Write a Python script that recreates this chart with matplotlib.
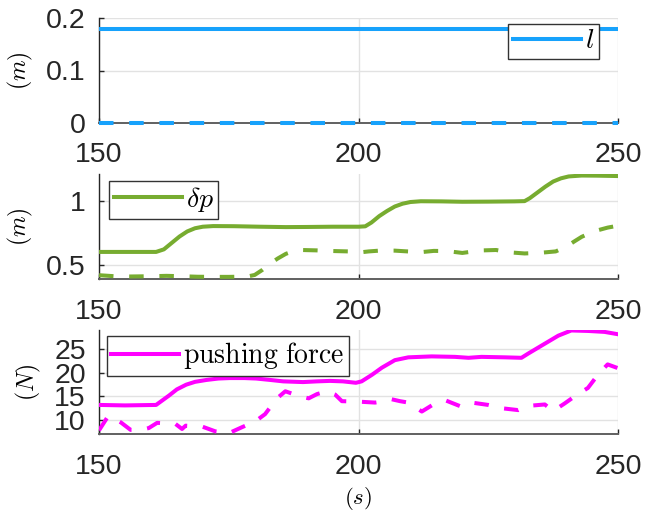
import matplotlib
matplotlib.use("Agg")
import matplotlib.pyplot as plt

plt.rcParams['font.family'] = ['Liberation Sans', 'DejaVu Sans']
plt.rcParams['mathtext.fontset'] = 'cm'

# ---------------- data ----------------
t_l = [150, 250]
l_ref = [0.18, 0.18]
l_act = [0.0, 0.0]

t_dp_ref = [150, 161, 162.5, 164, 165.5, 167, 168.5, 170, 172, 176, 181, 186, 190, 195, 200,
            201.3, 202.5, 204, 205.5, 207, 208.5, 210, 212, 216, 220, 225, 230, 232,
            233, 234.5, 236, 237.5, 239, 240.5, 243, 246, 250]
dp_ref = [0.6, 0.6, 0.62, 0.67, 0.72, 0.76, 0.785, 0.797, 0.802, 0.801, 0.797, 0.794, 0.795, 0.797, 0.797,
          0.80, 0.83, 0.88, 0.92, 0.955, 0.977, 0.99, 0.996, 0.995, 0.992, 0.993, 0.995, 0.997,
          1.02, 1.065, 1.11, 1.15, 1.175, 1.19, 1.197, 1.196, 1.193]

t_dp_act = [150, 153, 156, 160, 163, 166, 169, 172, 175, 178.5, 180, 181.5, 183, 184.5, 186, 187.5, 189,
            192, 195, 198, 200, 202, 204, 207, 209, 212, 214.5, 217, 220, 222, 224, 226.5, 229, 232,
            235, 238, 240, 241.5, 243, 244.5, 246, 248, 250]
dp_act = [0.418, 0.41, 0.408, 0.41, 0.413, 0.41, 0.406, 0.405, 0.405, 0.407, 0.42, 0.46, 0.51, 0.55, 0.585, 0.607, 0.615,
          0.612, 0.607, 0.604, 0.595, 0.604, 0.61, 0.61, 0.605, 0.598, 0.608, 0.607, 0.592, 0.603, 0.612, 0.615, 0.597, 0.588,
          0.593, 0.604, 0.64, 0.68, 0.718, 0.745, 0.768, 0.79, 0.805]

t_f_ref = [150, 155, 158, 161, 162, 163.5, 165, 166.8, 168.5, 170.7, 173, 175.2, 178, 180.3, 183, 185.5,
           189.3, 192, 194.5, 197, 199.5, 200.6, 202.6, 204.5, 207, 209.6, 214.1, 218.6, 221.2, 223.7,
           228.2, 231.4, 232.7, 235.9, 238.5, 241, 244.2, 247.4, 250]
f_ref = [13.2, 13.1, 13.15, 13.2, 14.0, 15.2, 16.5, 17.5, 18.1, 18.5, 18.8, 18.9, 18.9, 18.8, 18.5, 18.2,
         18.05, 18.2, 18.3, 18.2, 17.9, 18.2, 19.6, 21.1, 22.7, 23.3, 23.5, 23.4, 23.2, 23.4,
         23.3, 23.2, 24.1, 26.2, 27.9, 29.0, 28.9, 28.7, 28.2]

t_f_act = [150, 151.8, 153, 154.2, 156.1, 158, 159.6, 161.2, 164.7, 166, 166.7, 169.9, 172.4, 175, 177.6,
           180.1, 182, 184.3, 185.9, 188.5, 190.4, 192, 193.9, 195.5, 196.8, 200, 203.2, 205, 206.4, 208,
           209.6, 212.2, 214.7, 216.7, 219.9, 221.8, 225, 227.6, 230.8, 232.7, 235.9, 237.5, 239.7, 242,
           244.2, 246.2, 248, 250]
f_act = [7.8, 10.9, 10.2, 9.5, 7.9, 7.9, 8.3, 9.4, 9.2, 8.1, 8.8, 8.6, 7.6, 7.2, 8.5,
         9.7, 11.25, 14.6, 16.1, 15.1, 14.6, 15.5, 16.1, 15.4, 14.0, 13.9, 13.7, 14.0, 14.4, 14.0,
         13.7, 11.8, 13.5, 14.2, 12.8, 13.7, 13.2, 12.5, 12.1, 13.0, 13.3, 11.9, 13.5, 15.3,
         16.8, 19.7, 21.8, 21.0]

x_ticks = [150, 200, 250]
y_ticks_1 = [0, 0.1, 0.2]
y_tick_labels_1 = ['0', '0.1', '0.2']
y_ticks_2 = [0.5, 1]
y_tick_labels_2 = ['0.5', '1']
y_ticks_3 = [10, 15, 20, 25]
y_tick_labels_3 = ['10', '15', '20', '25']

c_blue = '#17A2FC'
c_green = '#77AC30'
c_mag = '#FF00FF'

# ---------------- figure ----------------
fig = plt.figure(figsize=(6.46, 5.15), dpi=100)
W, H = 646.0, 515.0
left = 99 / W
width = 519 / W
ax1 = fig.add_axes([left, 1 - 122.7 / H, width, 104.4 / H])
ax2 = fig.add_axes([left, 1 - 279.3 / H, width, 105.3 / H])
ax3 = fig.add_axes([left, 1 - 434.3 / H, width, 104.3 / H])

lw = 2.9
dash = (0, (3.6, 3.9))
tick_col = '#262626'


def style(ax, yt, ytl, ylim, ylabel, ylab_x):
    ax.set_xlim(150, 250)
    ax.set_ylim(*ylim)
    ax.set_xticks(x_ticks)
    ax.set_xticklabels([str(v) for v in x_ticks])
    ax.set_yticks(yt)
    ax.set_yticklabels(ytl)
    for s in ['top', 'right']:
        ax.spines[s].set_visible(False)
    ax.spines['left'].set_color(tick_col)
    ax.spines['left'].set_linewidth(1.0)
    ax.spines['bottom'].set_color('#606060')
    ax.spines['bottom'].set_linewidth(1.4)
    ax.grid(True, color='#e2e2e2', linewidth=1.0)
    ax.set_axisbelow(True)
    ax.tick_params(axis='both', direction='in', length=3.6, width=1.0, color=tick_col,
                   labelcolor=tick_col, labelsize=20.5)
    ax.tick_params(axis='x', pad=14.0)
    ax.tick_params(axis='y', pad=9.4)
    ax.set_ylabel(ylabel, fontsize=17)
    ax.yaxis.set_label_coords(ylab_x, 0.5)


def add_legend(ax, handle, label, loc, anchor):
    leg = ax.legend([handle], [label], loc=loc, bbox_to_anchor=anchor, borderaxespad=0,
                    fancybox=False, edgecolor='#333333', framealpha=1, fontsize=20,
                    handlelength=2.45, handletextpad=0.15, borderpad=0.16)
    leg.get_frame().set_linewidth(1.0)
    leg.set_zorder(5)
    return leg


# Panel 1
h1, = ax1.plot(t_l, l_ref, color=c_blue, lw=lw, zorder=3)
ax1.plot(t_l, l_act, color=c_blue, lw=lw, linestyle=dash, clip_on=False, zorder=3)
style(ax1, y_ticks_1, y_tick_labels_1, (0, 0.2), r'$(m)$', -0.123)
add_legend(ax1, h1, r'$l$', 'upper right', (0.963, 0.945))

# Panel 2
h2, = ax2.plot(t_dp_ref, dp_ref, color=c_green, lw=lw, zorder=3)
ax2.plot(t_dp_act, dp_act, color=c_green, lw=lw, linestyle=dash, zorder=3)
style(ax2, y_ticks_2, y_tick_labels_2, (0.386, 1.209), r'$(m)$', -0.123)
add_legend(ax2, h2, r'$\delta p$', 'upper left', (0.0198, 0.936))

# Panel 3
h3, = ax3.plot(t_f_ref, f_ref, color=c_mag, lw=lw, zorder=3)
ax3.plot(t_f_act, f_act, color=c_mag, lw=lw, linestyle=dash, zorder=3)
style(ax3, y_ticks_3, y_tick_labels_3, (6.97, 29.1), r'$(N)$', -0.108)
add_legend(ax3, h3, r'$\mathrm{pushing\ force}$', 'upper left', (0.0148, 0.942))
ax3.set_xlabel(r'$(s)$', fontsize=16.5)
ax3.xaxis.set_label_coords(0.5, -0.49)

fig.savefig('out.png', dpi=100)
